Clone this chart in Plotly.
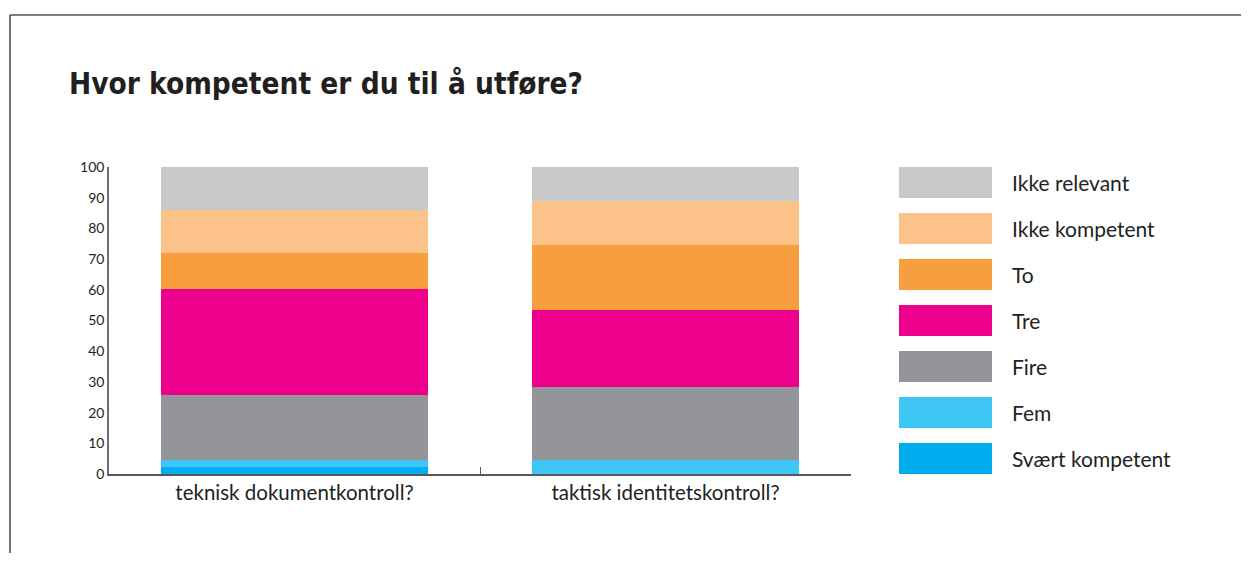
import plotly.graph_objects as go

# ---- data ----
categories = ["teknisk dokumentkontroll?", "taktisk identitetskontroll?"]
levels = ["Svært kompetent", "Fem", "Fire", "Tre", "To", "Ikke kompetent", "Ikke relevant"]
svaert_kompetent = [2.4, 0.0]
fem = [2.2, 4.6]
fire = [21.0, 23.6]
tre = [34.8, 25.3]
to = [11.7, 21.2]
ikke_kompetent = [13.9, 14.1]
ikke_relevant = [14.0, 11.2]
series_values = [svaert_kompetent, fem, fire, tre, to, ikke_kompetent, ikke_relevant]
colors = ["#00AEEF", "#3EC7F4", "#939598", "#EC008C", "#F79F3E", "#FBC389", "#C7C8CA"]
y_ticks = [0, 10, 20, 30, 40, 50, 60, 70, 80, 90, 100]

TEXT = "#231F20"
OFF = 8  # page body margin
W, H = 1249 - 2 * OFF, 561 - 2 * OFF
L, R, T, B = 109 - OFF, 851 - OFF, 167 - OFF, 474 - OFF


def px(x):
    return (x - OFF - L) / (R - L)


def py(y):
    return (B - (y - OFF)) / (B - T)


fig = go.Figure()
for name, vals, col in zip(levels, series_values, colors):
    fig.add_trace(go.Bar(x=categories, y=vals, name=name, marker=dict(color=col, line=dict(width=0)),
                         showlegend=False))

shapes = []
annotations = []
# custom legend (top-down: reverse stacking order)
for i, (name, col) in enumerate(zip(levels[::-1], colors[::-1])):
    top = 167 + i * 46
    shapes.append(dict(type="rect", xref="paper", yref="paper", x0=px(899), x1=px(992),
                       y0=py(top + 31), y1=py(top), fillcolor=col, line=dict(width=0)))
    annotations.append(dict(text=name, xref="paper", yref="paper", x=px(1010), y=py(top + 15.5),
                            xanchor="left", yanchor="middle", showarrow=False,
                            font=dict(family="Lato", size=21, color=TEXT)))

# frame lines
shapes.append(dict(type="line", xref="paper", yref="paper", x0=px(10), x1=px(1270), y0=py(15), y1=py(15),
                   line=dict(color="#555555", width=1.5)))
shapes.append(dict(type="line", xref="paper", yref="paper", x0=px(10), x1=px(10), y0=py(15), y1=py(580),
                   line=dict(color="#444444", width=1.5)))

fig.update_layout(
    width=W, height=H,
    margin=dict(l=L, r=W - R, t=T, b=H - B, pad=0),
    barmode="stack", bargap=0.278,
    plot_bgcolor="white", paper_bgcolor="white",
    title=dict(text="<b>Hvor kompetent er du til å utføre?</b>", x=(69 - OFF) / W, xanchor="left",
               xref="container", y=1 - (84 - OFF) / H, yanchor="middle", yref="container",
               font=dict(family="DejaVu Sans Condensed, Roboto Condensed, Roboto", size=29.5, color=TEXT)),
    shapes=shapes, annotations=annotations,
    xaxis=dict(showline=True, linecolor="#58595B", linewidth=1.5, ticks="inside", tickson="boundaries",
               ticklen=7, tickcolor="#58595B", tickwidth=1.2, showgrid=False, zeroline=False,
               tickfont=dict(family="Lato", size=20.5, color=TEXT)),
    yaxis=dict(range=[0, 100], tickvals=y_ticks, ticktext=[str(v) for v in y_ticks], showline=True,
               linecolor="#6D6E71", linewidth=1.5, ticks="", showgrid=False, zeroline=False,
               ticklabelstandoff=0, tickfont=dict(family="Lato", size=14, color=TEXT)),
)

fig.write_html("out.html")
